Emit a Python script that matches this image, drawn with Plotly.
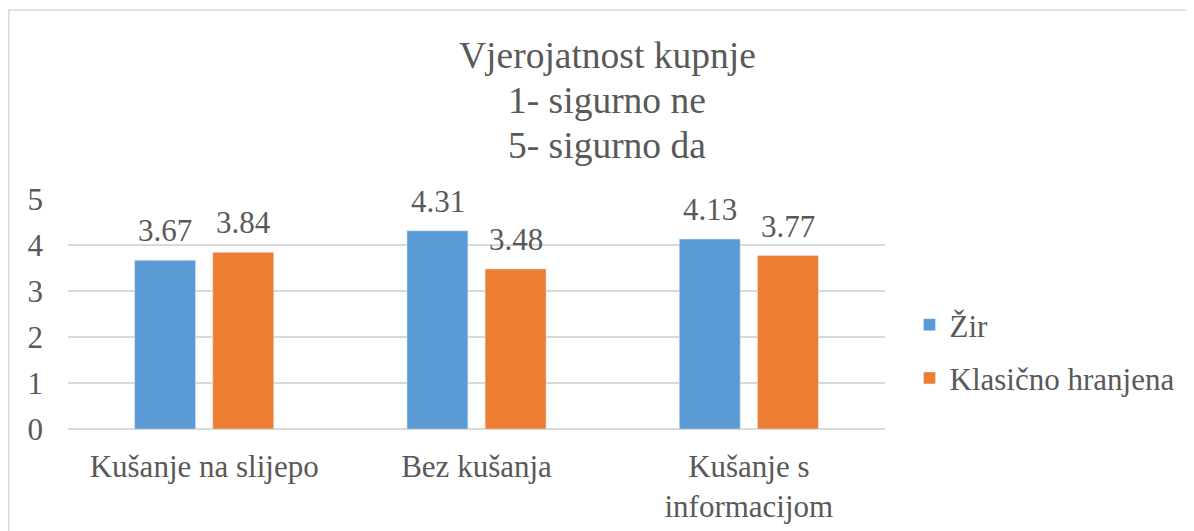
import plotly.graph_objects as go

categories = ["Kušanje na slijepo", "Bez kušanja", "Kušanje s<br>informacijom"]
zir = [3.67, 4.31, 4.13]
klasicno = [3.84, 3.48, 3.77]
series_names = ["Žir", "Klasično hranjena"]
title_lines = ["Vjerojatnost kupnje", "1- sigurno ne", "5- sigurno da"]
y_ticks = [0, 1, 2, 3, 4, 5]

font_name = "Liberation Serif"
grey = "#595959"
fs = 31

# page body has an 8px margin, so the figure is drawn 8px smaller and shifted
W, H = 1186, 523
left, right, top, bottom = 60, 877, 191, 421
pw, ph = right - left, bottom - top

fig = go.Figure()
fig.add_trace(go.Bar(x=categories, y=zir, name=series_names[0],
                     legendgroup="a", marker_color="#5B9BD5"))
fig.add_trace(go.Bar(x=categories, y=klasicno, name=series_names[1],
                     legendgroup="b", marker_color="#ED7D31"))

annotations = []
# title, one line per annotation so the line spacing can match
for i, line in enumerate(title_lines):
    annotations.append(dict(text=line, xref="paper", yref="paper",
                            x=(599 - left) / pw, y=(bottom - (47 + 45 * i)) / ph,
                            xanchor="center", yanchor="middle", showarrow=False,
                            font=dict(size=37.5, color=grey, family=font_name)))
# data labels above the bars
for vals, shift in [(zir, -39), (klasicno, 39)]:
    for c, v in zip(categories, vals):
        annotations.append(dict(text=f"{v:.2f}", x=c, y=v, xref="x", yref="y",
                                xshift=shift, yshift=10, yanchor="bottom",
                                showarrow=False,
                                font=dict(size=fs, color=grey, family=font_name)))

fig.update_layout(
    width=W, height=H,
    margin=dict(l=left, r=W - right, t=top, b=H - bottom, autoexpand=False),
    paper_bgcolor="white", plot_bgcolor="white",
    font=dict(family=font_name, color=grey, size=fs),
    barmode="group", bargap=0.426, bargroupgap=0.22,
    legend=dict(x=1.03, y=(bottom - 343.5) / ph, xanchor="left", yanchor="middle",
                font=dict(size=fs, color=grey, family=font_name),
                itemwidth=30, tracegroupgap=10, traceorder="grouped"),
    xaxis=dict(showgrid=False, showline=False, ticks="", automargin=False,
               ticklabelstandoff=16,
               tickfont=dict(size=fs, color=grey, family=font_name)),
    yaxis=dict(range=[0, 5], tickvals=y_ticks, showgrid=True, automargin=False,
               gridcolor="#D9D9D9", gridwidth=1.5, zeroline=True,
               zerolinecolor="#D9D9D9", zerolinewidth=1.5,
               ticklabelstandoff=24,
               tickfont=dict(size=fs, color=grey, family=font_name)),
    annotations=annotations,
    shapes=[dict(type="rect", xref="paper", yref="paper",
                 x0=(0.75 - left) / pw, x1=(W + 40 - left) / pw,
                 y0=(bottom - H - 40) / ph, y1=(bottom - 2) / ph,
                 line=dict(color="#D9D9D9", width=1.5), layer="below")],
)

fig.write_html("out.html")
